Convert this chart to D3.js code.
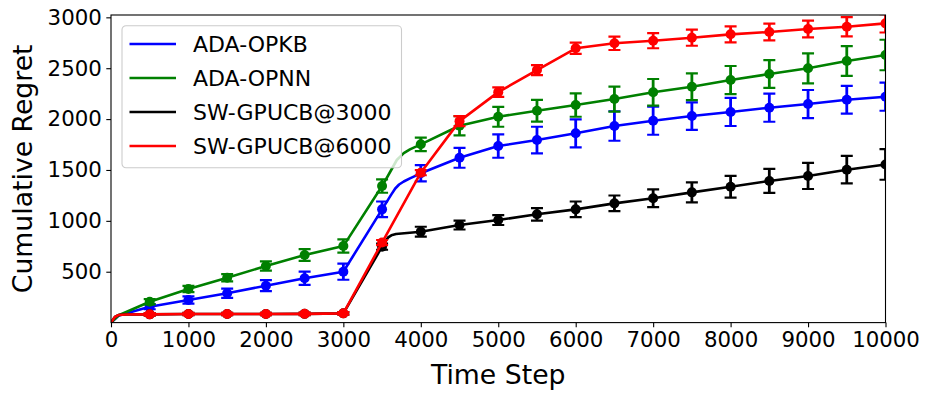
<!DOCTYPE html>
<html>
<head>
<meta charset="utf-8">
<script src="https://cdn.jsdelivr.net/npm/d3@7"></script>
<style>
  body { margin: 0; background: #fff; }
  svg { font-family: 'DejaVu Sans', sans-serif; }
</style>
</head>
<body>
<div id="chart"></div>
<script>
// Error bar positions (every 500 steps)
const steps = [500, 1000, 1500, 2000, 2500, 3000, 3500, 4000, 4500, 5000,
  5500, 6000, 6500, 7000, 7500, 8000, 8500, 9000, 9500, 10000];

const opkbMean = [156, 222, 288, 363, 435, 500, 1113, 1467, 1620, 1735,
  1794, 1860, 1932, 1984, 2030, 2070, 2112, 2148, 2190, 2220];
const opkbErr = [25, 36, 45, 54, 65, 79, 77, 80, 98, 115,
  131, 138, 145, 138, 135, 138, 138, 138, 136, 138];

const opnnMean = [205, 330, 441, 556, 664, 752, 1342, 1752, 1935, 2023,
  2082, 2138, 2197, 2263, 2318, 2384, 2443, 2499, 2571, 2630];
const opnnErr = [25, 30, 35, 45, 58, 65, 66, 66, 95, 98,
  106, 115, 123, 131, 131, 138, 136, 147, 147, 150];

const sw3000Mean = [81, 84, 84, 85, 86, 91, 746, 893, 959, 1008,
  1064, 1113, 1172, 1222, 1280, 1335, 1392, 1441, 1503, 1554];
const sw3000Err = [12, 12, 12, 12, 12, 12, 30, 49, 44, 49,
  61, 77, 77, 88, 98, 106, 118, 128, 135, 150];

const sw6000Mean = [81, 84, 84, 85, 86, 91, 787, 1473, 1980, 2265,
  2482, 2696, 2745, 2770, 2800, 2833, 2856, 2885, 2908, 2941];
const sw6000Err = [12, 12, 12, 12, 12, 12, 25, 25, 49, 46,
  49, 56, 66, 74, 79, 79, 82, 82, 95, 90];

// Extra points of the mean curves (start-up and the knee after 3500)
const opkbKnee = [[0, 0], [100, 70], [3620, 1260], [3670, 1318], [3720, 1357], [3780, 1387], [3860, 1418]];
const opnnKnee = [[0, 0], [100, 72], [3600, 1475], [3690, 1598], [3780, 1665], [3860, 1703]];
const sw3000Knee = [[0, 0], [50, 55], [100, 75], [200, 80], [3580, 838], [3620, 858], [3680, 870]];
const sw6000Knee = [[0, 0], [50, 55], [100, 75], [200, 80]];

const xTicks = [0, 1000, 2000, 3000, 4000, 5000, 6000, 7000, 8000, 9000, 10000];
const yTicks = [500, 1000, 1500, 2000, 2500, 3000];

const series = [
  {name: 'ADA-OPKB', color: '#0000ff', mean: opkbMean, err: opkbErr, knee: opkbKnee},
  {name: 'ADA-OPNN', color: '#008000', mean: opnnMean, err: opnnErr, knee: opnnKnee},
  {name: 'SW-GPUCB@3000', color: '#000000', mean: sw3000Mean, err: sw3000Err, knee: sw3000Knee},
  {name: 'SW-GPUCB@6000', color: '#ff0000', mean: sw6000Mean, err: sw6000Err, knee: sw6000Knee}
];

let width = 930;
let height = 398;
let margin = {top: 15, right: 44.5, bottom: 75.4, left: 111};
let plotW = width - margin.left - margin.right;
let plotH = height - margin.top - margin.bottom;

let x = d3.scaleLinear().domain([0, 10000]).range([0, plotW]);
let y = d3.scaleLinear().domain([0, 3023]).range([plotH, 0]);

let svg = d3.select('#chart')
  .append('svg')
  .attr('width', width)
  .attr('height', height);

let chart = svg.append('g')
  .attr('transform', 'translate(' + margin.left + ',' + margin.top + ')');

chart.append('clipPath')
  .attr('id', 'plotClip')
  .append('rect')
  .attr('width', plotW)
  .attr('height', plotH);

// Axes
let xAxis = chart.append('g')
  .attr('transform', 'translate(0,' + plotH + ')')
  .call(d3.axisBottom(x).tickValues(xTicks).tickSize(4.7).tickPadding(4.5).tickFormat(d3.format('d')));
let yAxis = chart.append('g')
  .call(d3.axisLeft(y).tickValues(yTicks).tickSize(4.7).tickPadding(4.5).tickFormat(d3.format('d')));
[xAxis, yAxis].forEach(function(a) {
  a.select('.domain').remove();
  a.selectAll('line').attr('stroke', '#000').attr('stroke-width', 1.1);
  a.selectAll('text')
    .attr('fill', '#000')
    .style('font-size', '21.3px')
    .style('font-family', "'DejaVu Sans', sans-serif");
});

// Data
let plot = chart.append('g').attr('clip-path', 'url(#plotClip)');
let line = d3.line()
  .x(function(d) { return x(d[0]); })
  .y(function(d) { return y(d[1]); });

series.forEach(function(s) {
  let pts = s.knee.concat(steps.map(function(t, i) { return [t, s.mean[i]]; }))
    .sort(function(a, b) { return a[0] - b[0]; });
  let g = plot.append('g');
  g.append('path')
    .attr('d', line(pts))
    .attr('fill', 'none')
    .attr('stroke', s.color)
    .attr('stroke-width', 2.6)
    .attr('stroke-linejoin', 'round');

  steps.forEach(function(t, i) {
    let cx = x(t);
    let top = y(s.mean[i] + s.err[i]);
    let bot = y(s.mean[i] - s.err[i]);
    g.append('line')
      .attr('x1', cx).attr('x2', cx)
      .attr('y1', top).attr('y2', bot)
      .attr('stroke', s.color).attr('stroke-width', 2.8);
    [top, bot].forEach(function(cy) {
      g.append('line')
        .attr('x1', cx - 6).attr('x2', cx + 6)
        .attr('y1', cy).attr('y2', cy)
        .attr('stroke', s.color).attr('stroke-width', 2.2);
    });
    g.append('circle')
      .attr('cx', cx)
      .attr('cy', y(s.mean[i]))
      .attr('r', 5)
      .attr('fill', s.color);
  });
});

// Frame
chart.append('rect')
  .attr('width', plotW)
  .attr('height', plotH)
  .attr('fill', 'none')
  .attr('stroke', '#000')
  .attr('stroke-width', 1.1);

// Axis labels
chart.append('text')
  .attr('x', plotW / 2)
  .attr('y', plotH + 61)
  .attr('text-anchor', 'middle')
  .style('font-size', '26.7px')
  .text('Time Step');
chart.append('text')
  .attr('transform', 'translate(' + (-79) + ',' + (plotH / 2) + ') rotate(-90)')
  .attr('text-anchor', 'middle')
  .style('font-size', '26.7px')
  .text('Cumulative Regret');

// Legend
let legend = chart.append('g')
  .attr('transform', 'translate(' + (122 - margin.left) + ',' + (25.7 - margin.top) + ')');
legend.append('rect')
  .attr('width', 279.5)
  .attr('height', 142)
  .attr('rx', 4)
  .attr('fill', '#fff')
  .attr('fill-opacity', 0.8)
  .attr('stroke', '#cccccc')
  .attr('stroke-width', 1.1);
series.forEach(function(s, i) {
  let ly = 18.3 + i * 34;
  legend.append('line')
    .attr('x1', 7.5).attr('x2', 54)
    .attr('y1', ly).attr('y2', ly)
    .attr('stroke', s.color)
    .attr('stroke-width', 2.6);
  legend.append('text')
    .attr('x', 71)
    .attr('y', ly)
    .attr('dy', '0.36em')
    .style('font-size', '22px')
    .text(s.name);
});
</script>
</body>
</html>
